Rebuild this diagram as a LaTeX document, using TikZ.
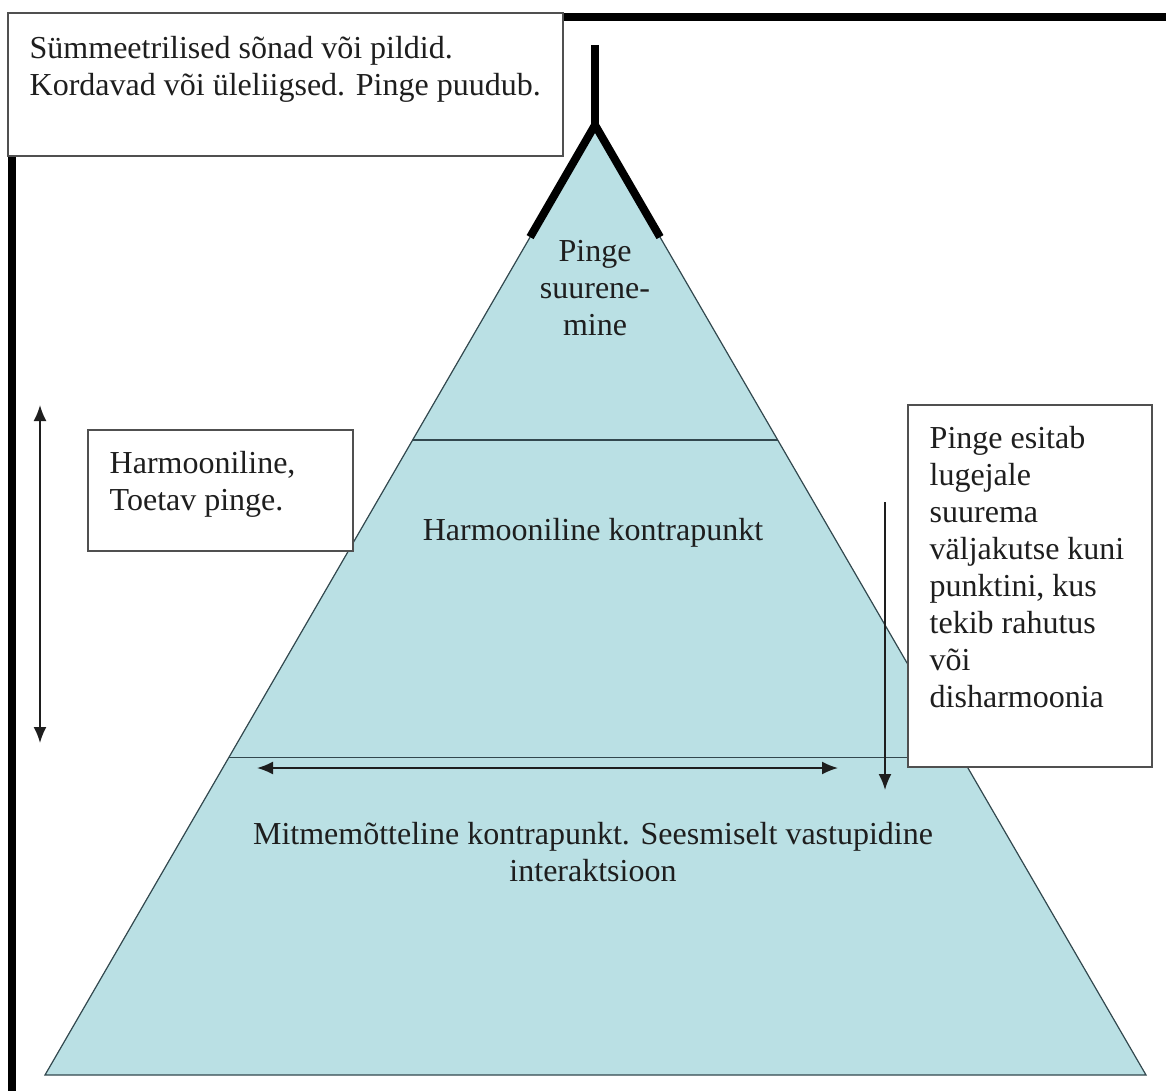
\documentclass[tikz,border=0pt]{standalone}
\usepackage{fontspec}
\setmainfont{Liberation Serif}
\usetikzlibrary{arrows.meta,positioning,calc}
\definecolor{pyrfill}{RGB}{186,224,228}
\definecolor{pyredge}{RGB}{50,72,78}
\definecolor{boxedge}{RGB}{80,80,80}
\definecolor{ink}{RGB}{30,30,30}

\begin{document}
\begin{tikzpicture}[
    x=0.5pt, y=-0.5pt,
    >={Latex[length=8pt,width=6.5pt]},
    box/.style={draw=boxedge, fill=white, line width=0.7pt, inner sep=0pt},
    txt/.style={inner sep=0pt, text=ink, font=\fontsize{16}{18.5}\selectfont},
    layer/.style={draw=pyredge, line width=0.6pt},
    frame/.style={line width=3.6pt},
    arr/.style={line width=0.9pt, draw=ink}
]
    \useasboundingbox (0,0) rectangle (1166,1091);

    % Pyramid corners
    \coordinate (apex) at (595,125);
    \coordinate (bl) at (45,1075);
    \coordinate (br) at (1146,1075);
    \fill[pyrfill] (apex) -- (bl) -- (br) -- cycle;
    \draw[layer] (apex) -- (bl) -- (br) -- cycle;

    % Layer borders
    \draw[layer, line width=0.9pt] ($(apex)!0.3316!(bl)$) -- ($(apex)!0.3316!(br)$);
    \draw[layer, line width=0.9pt] ($(apex)!0.6658!(bl)$) -- ($(apex)!0.6658!(br)$);

    % Thick top of the pyramid
    \coordinate (stem) at (595,45);
    \draw[line width=4pt] ($(apex)!0.118!(bl)$) -- (apex) -- ($(apex)!0.118!(br)$);
    \draw[line width=4pt] (stem) -- (apex);

    % Outer frame
    \draw[frame] (12,1091) -- (12,17) -- (1166,17);

    % Pyramid texts
    \node[txt, align=center, anchor=north] (top) at (595,240) {Pinge\\suurene-\\mine};
    \node[txt, anchor=north] (mid) at (593,518) {Harmooniline kontrapunkt};
    \node[txt, align=center, anchor=north] (base) at (593,822)
        {Mitmemõtteline kontrapunkt. Seesmiselt vastupidine\\interaktsioon};

    % Side boxes
    \node[box, minimum width=277.5pt, minimum height=71.5pt] (symbox) at (285.5,84.5) {};
    \node[txt, align=left, anchor=north west] (symtxt) at ([shift={(22,24)}]symbox.north west)
        {Sümmeetrilised sõnad või pildid.\\Kordavad või üleliigsed. Pinge puudub.};

    \node[box, minimum width=132.5pt, minimum height=60.5pt] (harmbox) at (220.5,490.5) {};
    \node[txt, align=left, anchor=north west] (harmtxt) at ([shift={(22,22)}]harmbox.north west)
        {Harmooniline,\\Toetav pinge.};

    \node[box, minimum width=122pt, minimum height=181pt] (tensbox) at (1030,586) {};
    \node[txt, align=left, anchor=north west] (tenstxt) at ([shift={(22,22)}]tensbox.north west)
        {Pinge esitab\\lugejale\\suurema\\väljakutse kuni\\punktini, kus\\tekib rahutus\\või\\disharmoonia};

    % Arrows
    \coordinate (vtop) at (40,405);
    \coordinate (vbot) at (40,743);
    \draw[arr, <->] (vtop) -- (vbot);

    \coordinate (hl) at (257,768);
    \coordinate (hr) at (838,768);
    \draw[arr, <->] (hl) -- (hr);

    \coordinate (dtop) at (885,502);
    \coordinate (dbot) at (885,790);
    \draw[arr, ->] (dtop) -- (dbot);
\end{tikzpicture}
\end{document}
